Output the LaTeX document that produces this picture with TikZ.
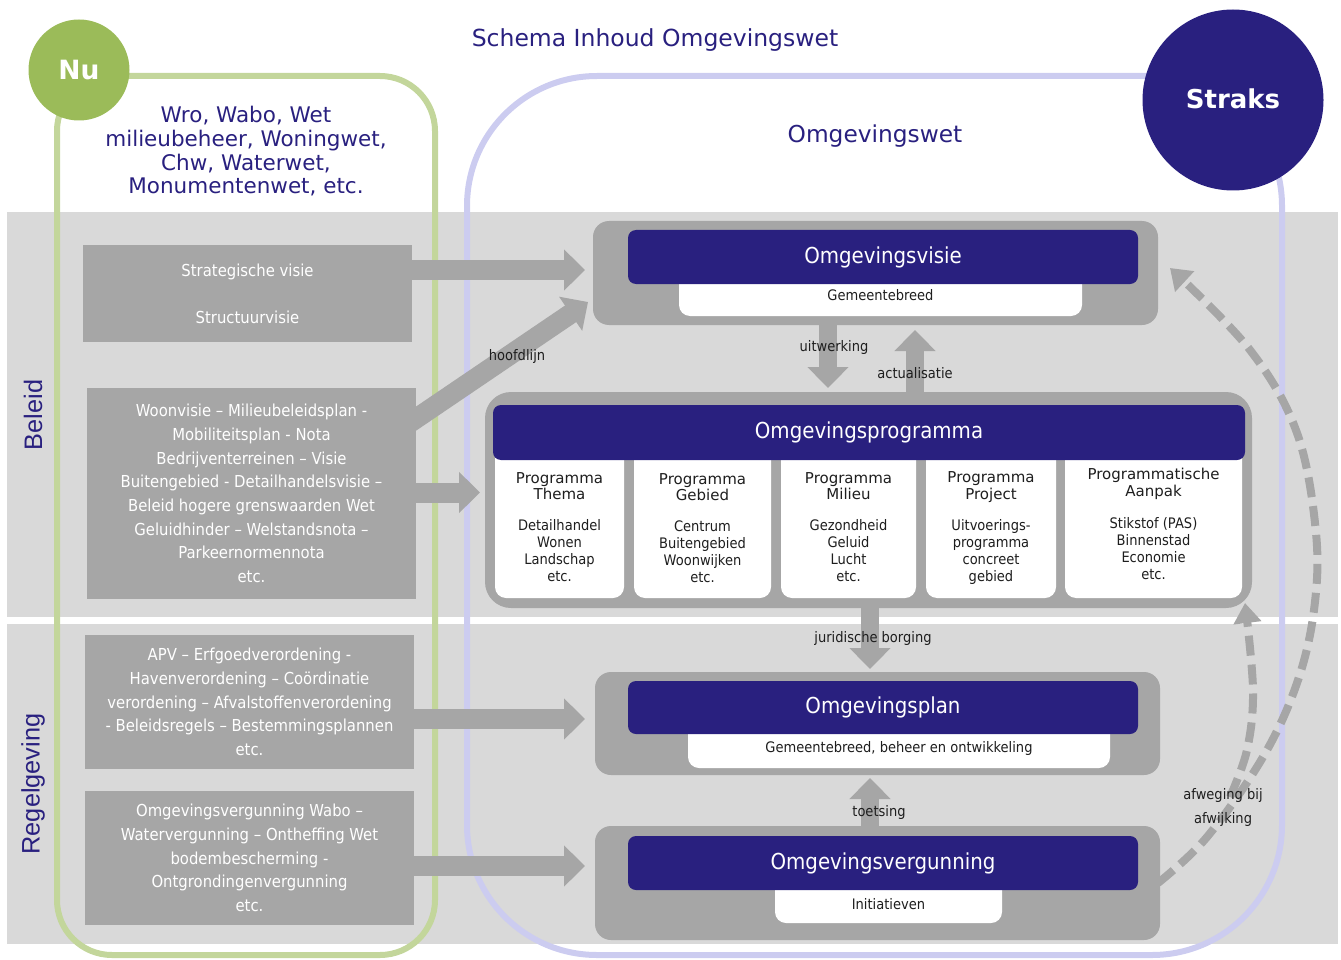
\documentclass[tikz,border=0pt]{standalone}
\usepackage{fontspec}
\setmainfont{DejaVu Sans}
\newfontfamily\tah[FakeStretch=0.9]{DejaVu Sans}
\newfontfamily\arialf{Liberation Sans}
\usetikzlibrary{arrows.meta}
\definecolor{navy}{RGB}{41,32,127}
\definecolor{gbox}{RGB}{166,166,166}
\definecolor{band}{RGB}{217,217,217}
\definecolor{nugreen}{RGB}{155,187,89}
\definecolor{greenline}{RGB}{195,214,155}
\definecolor{lavline}{RGB}{204,204,240}
\definecolor{txt}{RGB}{30,30,30}
\tikzset{
 graybox/.style={fill=gbox, inner sep=0pt, align=center, text=white, font=\tah\fontsize{16.5}{23.7}\selectfont},
 plat/.style={fill=gbox, rounded corners=16pt, inner sep=0pt},
 navybox/.style={fill=navy, rounded corners=8pt, inner sep=0pt, text=white, font=\tah\fontsize{22}{22}\selectfont},
 subbox/.style={fill=white, rounded corners=11pt, inner sep=0pt},
 lbl/.style={inner sep=0pt, text=txt, font=\tah\fontsize{14.5}{17}\selectfont, align=center},
 colhead/.style={inner sep=0pt, text=txt, font=\fontsize{15}{16.3}\selectfont, align=center},
 colbody/.style={inner sep=0pt, text=txt, font=\tah\fontsize{14.5}{17}\selectfont, align=center},
 bigarrow/.style={draw=gbox, line width=20pt, -{Triangle[length=21pt,width=40pt]}},
 dasharrow/.style={draw=gbox, line width=8pt, dash pattern=on 20pt off 9pt, -{Triangle[length=20pt,width=27pt]}},
 navytext/.style={inner sep=0pt, text=navy, align=center},
}
\begin{document}
\begin{tikzpicture}[x=1pt,y=-1pt]
\useasboundingbox (0,0) rectangle (1341,960);
% background bands
\fill[band] (7,212) rectangle (1338,617);
\fill[band] (7,624) rectangle (1338,944);
% outlines
\draw[greenline, line width=6pt, rounded corners=55pt] (57,76) rectangle (435,955);
\draw[lavline, line width=6pt, rounded corners=130pt] (467,76) rectangle (1282,955);
% circles
\node[circle, fill=nugreen, minimum size=101pt, inner sep=0pt, text=white, font=\bfseries\fontsize{26.5}{26.5}\selectfont] (nu) at (79,70) {Nu};
\node[circle, fill=navy, minimum size=181pt, inner sep=0pt, text=white, font=\bfseries\fontsize{26}{26}\selectfont] (straks) at (1233,100) {\raisebox{3pt}{Straks}};
% titles
\node[navytext, font=\fontsize{23.5}{23.5}\selectfont] (title) at (655,40) {Schema Inhoud Omgevingswet};
\node[navytext, font=\fontsize{23.3}{23.3}\selectfont] (ow) at (875,136) {Omgevingswet};
\node[navytext, font=\fontsize{21.5}{23.7}\selectfont] (wro) at (246,151.5) {Wro, Wabo, Wet\\milieubeheer, Woningwet,\\Chw, Waterwet,\\Monumentenwet, etc.};
\node[navytext, rotate=90, font=\arialf\fontsize{25.3}{25.3}\selectfont] (beleid) at (33,415) {Beleid};
\node[navytext, rotate=90, font=\arialf\fontsize{25.3}{25.3}\selectfont] (regel) at (33,784) {Regelgeving};
% center platforms
\node[plat, minimum width=565pt, minimum height=104pt] (visout) at (875.5,273) {};
\node[plat, rounded corners=26pt, minimum width=767pt, minimum height=216pt] (progout) at (868.5,500) {};
\node[plat, minimum width=565pt, minimum height=103pt] (planout) at (877.5,723.5) {};
\node[plat, minimum width=565pt, minimum height=114pt] (vergout) at (877.5,883) {};
% left-side arrows
\draw[bigarrow] (412,270) -- (585,270);
\draw[bigarrow] (400,429.5) -- (588,302);
\draw[bigarrow] (405,492.5) -- (480,492.5);
\draw[bigarrow] (405,719) -- (585,719);
\draw[bigarrow] (405,866) -- (585,866);
% left gray boxes
\node[graybox, minimum width=329pt, minimum height=97pt] (b1) at (247.5,293.5) {Strategische visie\\[23.3pt]Structuurvisie};
\node[graybox, minimum width=329pt, minimum height=211pt] (b2) at (251.5,493.5) {Woonvisie – Milieubeleidsplan -\\Mobiliteitsplan - Nota\\Bedrijventerreinen – Visie\\Buitengebied - Detailhandelsvisie –\\Beleid hogere grenswaarden Wet\\Geluidhinder – Welstandsnota –\\Parkeernormennota\\etc.};
\node[graybox, minimum width=329pt, minimum height=134pt] (b3) at (249.5,702) {APV – Erfgoedverordening -\\Havenverordening – Coördinatie\\verordening – Afvalstoffenverordening\\- Beleidsregels – Bestemmingsplannen\\etc.};
\node[graybox, minimum width=329pt, minimum height=134pt] (b4) at (249.5,858) {Omgevingsvergunning Wabo –\\Watervergunning – Ontheffing Wet\\bodembescherming -\\Ontgrondingenvergunning\\etc.};
% Omgevingsvisie
\node[subbox, minimum width=403pt, minimum height=52pt] (vissub) at (880.5,290) {};
\node[navybox, minimum width=510pt, minimum height=54pt] (visie) at (883,257) {Omgevingsvisie};
\node[lbl] (vissubt) at (880.5,295) {Gemeentebreed};
% Omgevingsprogramma columns
\node[subbox, minimum width=129pt, minimum height=158pt] (c1) at (559.5,519) {};
\node[subbox, minimum width=137pt, minimum height=158pt] (c2) at (702.5,519) {};
\node[subbox, minimum width=135pt, minimum height=158pt] (c3) at (848.5,519) {};
\node[subbox, minimum width=130pt, minimum height=158pt] (c4) at (991,519) {};
\node[subbox, minimum width=177pt, minimum height=158pt] (c5) at (1153.5,519) {};
\node[navybox, minimum width=752pt, minimum height=55pt] (prog) at (869,432.5) {Omgevingsprogramma};
\node[colhead] (c1h) at (559.5,486) {Programma\\Thema};
\node[colhead] (c2h) at (702.5,487) {Programma\\Gebied};
\node[colhead] (c3h) at (848.5,486) {Programma\\Milieu};
\node[colhead] (c4h) at (991,487) {Programma\\Project};
\node[colhead] (c5h) at (1153.5,484) {Programmatische\\Aanpak};
\node[colbody] (c1b) at (559.5,550.5) {Detailhandel\\Wonen\\Landschap\\etc.};
\node[colbody] (c2b) at (702.5,552) {Centrum\\Buitengebied\\Woonwijken\\etc.};
\node[colbody] (c3b) at (848.5,551) {Gezondheid\\Geluid\\Lucht\\etc.};
\node[colbody] (c4b) at (991,552) {Uitvoerings-\\programma\\concreet\\gebied};
\node[colbody] (c5b) at (1153.5,549) {Stikstof (PAS)\\Binnenstad\\Economie\\etc.};
% Omgevingsplan
\node[subbox, minimum width=422pt, minimum height=54pt] (plansub) at (899,741) {};
\node[navybox, minimum width=510pt, minimum height=53pt] (plan) at (883,707.5) {Omgevingsplan};
\node[lbl] (plansubt) at (899,748) {Gemeentebreed, beheer en ontwikkeling};
% Omgevingsvergunning
\node[subbox, minimum width=227pt, minimum height=53pt] (vergsub) at (888.5,896.5) {};
\node[navybox, minimum width=510pt, minimum height=54pt] (verg) at (883,863) {Omgevingsvergunning};
\node[lbl] (vergsubt) at (888.5,904) {Initiatieven};
% vertical arrows
\draw[bigarrow, line width=18pt] (visout.south -| 828,0) -- (828,388);
\draw[bigarrow, line width=18pt] (progout.north -| 915,0) -- (915,330);
\draw[bigarrow, line width=18pt] (progout.south -| 870,0) -- (870,669);
\draw[bigarrow, line width=18pt] (vergout.north -| 870,0) -- (870,778);
% dashed feedback arrows
\draw[dasharrow] plot[smooth, tension=0.6] coordinates {(1158,883) (1207,837) (1263,757) (1297,683) (1314,610) (1316,533) (1297,433) (1250,350) (1170,268)};
\draw[dasharrow] plot[smooth, tension=0.6] coordinates {(1230,797) (1247,750) (1253,690) (1245,603)};
% labels
\node[lbl] (hoofd) at (517,356) {hoofdlijn};
\node[lbl] (uitw) at (834,347) {uitwerking};
\node[lbl] (actu) at (915,373) {actualisatie};
\node[lbl] (jur) at (873,638) {juridische borging};
\node[lbl] (toets) at (879,812) {toetsing};
\node[lbl, font=\tah\fontsize{14.5}{24}\selectfont] (afw) at (1223,807) {afweging bij\\afwijking};
\end{tikzpicture}
\end{document}
